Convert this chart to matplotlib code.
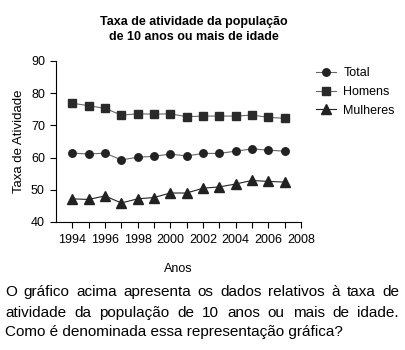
import matplotlib
matplotlib.use("Agg")
import matplotlib.pyplot as plt

plt.rcParams['font.family'] = ['Liberation Sans', 'DejaVu Sans']

anos = list(range(1994, 2008))
total = [61.4, 61.1, 61.4, 59.3, 60.1, 60.4, 61.1, 60.5, 61.3, 61.3, 62.0, 62.7, 62.3, 62.0]
homens = [76.9, 76.1, 75.3, 73.2, 73.6, 73.5, 73.6, 72.7, 72.9, 72.9, 72.9, 73.2, 72.5, 72.2]
mulheres = [47.2, 47.0, 48.1, 45.9, 47.2, 47.6, 49.0, 49.0, 50.5, 50.9, 51.8, 52.9, 52.6, 52.4]

titulo = "Taxa de atividade da população\nde 10 anos ou mais de idade"
texto = ["O gráfico acima apresenta os dados relativos à taxa de",
         "atividade da população de 10 anos ou mais de idade.",
         "Como é denominada essa representação gráfica?"]

W, H = 406, 350
fig = plt.figure(figsize=(W / 100, H / 100), dpi=100)
ax = fig.add_axes([56 / W, 1 - 222 / H, (301 - 56) / W, (222 - 61) / H])

ax.plot(anos, total, color='#666666', lw=0.8, marker='o', ms=5.4,
        mfc='#222222', mec='#222222', label='Total')
ax.plot(anos, homens, color='#666666', lw=0.8, marker='s', ms=6.2,
        mfc='#2a2a2a', mec='#2a2a2a', label='Homens')
ax.plot(anos, mulheres, color='#222222', lw=0.8, marker='^', ms=6.5,
        mfc='#222222', mec='#222222', label='Mulheres')

ax.set_xlim(1993.0, 2008)
ax.set_ylim(40, 90)
ax.set_yticks([40, 50, 60, 70, 80, 90])
ax.set_xticks(range(1994, 2009, 2))
ax.set_xticks(range(1995, 2009, 2), minor=True)
ax.tick_params(labelsize=9, direction='out', length=4, width=0.8, pad=4)
ax.tick_params(axis='x', pad=5)
ax.tick_params(which='minor', length=4, width=0.8)
for s in ['top', 'right']:
    ax.spines[s].set_visible(False)
ax.set_xlabel('Anos', fontsize=9, labelpad=12)
ax.set_ylabel('Taxa de Atividade', fontsize=9.5, labelpad=4)

fig.text(194 / W, 1 - 29.5 / H, titulo, ha='center', va='center',
         fontsize=9, fontweight='bold', linespacing=1.35)

fig.legend(loc='upper left', bbox_to_anchor=(311 / W, 1 - 62 / H),
           frameon=False, fontsize=9, handlelength=1.6,
           labelspacing=0.55, handletextpad=0.6, borderaxespad=0)

# justified paragraph under the chart
fig.canvas.draw()
r = fig.canvas.get_renderer()
x0, x1 = 5, 399
ys = [292, 313, 332]
for i, linha in enumerate(texto):
    palavras = linha.split(' ')
    if i == len(texto) - 1:
        fig.text(x0 / W, 1 - ys[i] / H, linha, fontsize=11, va='center')
        continue
    objs = [fig.text(0, 1 - ys[i] / H, p, fontsize=11, va='center') for p in palavras]
    larg = [o.get_window_extent(r).width for o in objs]
    gap = (x1 - x0 - sum(larg)) / (len(palavras) - 1)
    x = x0
    for o, w in zip(objs, larg):
        o.set_x(x / W)
        x += w + gap

fig.savefig('out.png', dpi=100)
